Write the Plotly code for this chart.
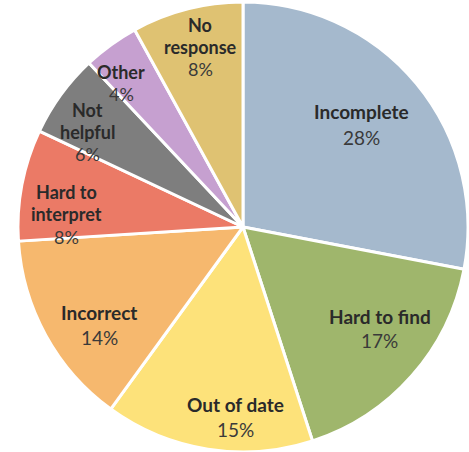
import math
import plotly.graph_objects as go

categories = ["Incomplete", "Hard to find", "Out of date", "Incorrect",
              "Hard to interpret", "Not helpful", "Other", "No response"]
label_lines = [["Incomplete"], ["Hard to find"], ["Out of date"], ["Incorrect"],
               ["Hard to", "interpret"], ["Not", "helpful"], ["Other"], ["No", "response"]]
values = [28, 17, 15, 14, 8, 6, 4, 8]
colors = ["#a5b9cd", "#9fb66c", "#fde27a", "#f6b86e",
          "#eb7a66", "#7e7e7e", "#c6a0d0", "#dfc272"]

# label placement (layout only): fraction of radius, angular nudge from slice middle,
# line pitch (px) and font size
label_radius = [0.697, 0.757, 0.846, 0.773, 0.787, 0.812, 0.838, 0.824]
label_shift_deg = [-1.1, -4.9, -6.6, -5.4, -6.6, -4.6, -4.3, 1.0]
line_pitch = [26.5, 24.0, 25.5, 25.5, 22.5, 22.0, 22.0, 22.0]
font_size = [19, 19, 19, 19, 18, 18, 18, 18]

FONT = "Lato, Open Sans, sans-serif"
W, H = 469, 452
M = dict(l=18, r=1, t=2, b=0)
plot_h = H - M["t"] - M["b"]

fig = go.Figure(go.Pie(
    labels=categories,
    values=values,
    textinfo="none",
    sort=False,
    direction="clockwise",
    rotation=0,
    marker=dict(colors=colors, line=dict(color="white", width=3)),
    showlegend=False,
    hoverinfo="label+value",
))

total = sum(values)
cum = 0.0
annotations = []
for lines, v, rf, sh, pitch, fs in zip(label_lines, values, label_radius,
                                       label_shift_deg, line_pitch, font_size):
    mid = (cum + v / 2) / total * 360 + sh
    cum += v
    th = math.radians(mid)
    x = 0.5 + 0.5 * rf * math.sin(th)
    y = 0.5 + 0.5 * rf * math.cos(th)
    rows = [(f"<b>{t}</b>", "#2a2a2a") for t in lines] + [(f"{v}%", "#3a3a3a")]
    n = len(rows)
    for i, (txt, col) in enumerate(rows):
        off = ((n - 1) / 2 - i) * pitch
        annotations.append(dict(
            x=x, y=y + off / plot_h, xref="paper", yref="paper", showarrow=False,
            xanchor="center", yanchor="middle", align="center", borderpad=0,
            text=txt, font=dict(family=FONT, size=fs, color=col),
        ))

fig.update_layout(
    width=W, height=H,
    margin=M,
    paper_bgcolor="white",
    plot_bgcolor="white",
    annotations=annotations,
)

fig.write_html("out.html", config={"displayModeBar": False},
               post_script="document.body.style.margin='0';document.body.style.overflow='hidden';")
